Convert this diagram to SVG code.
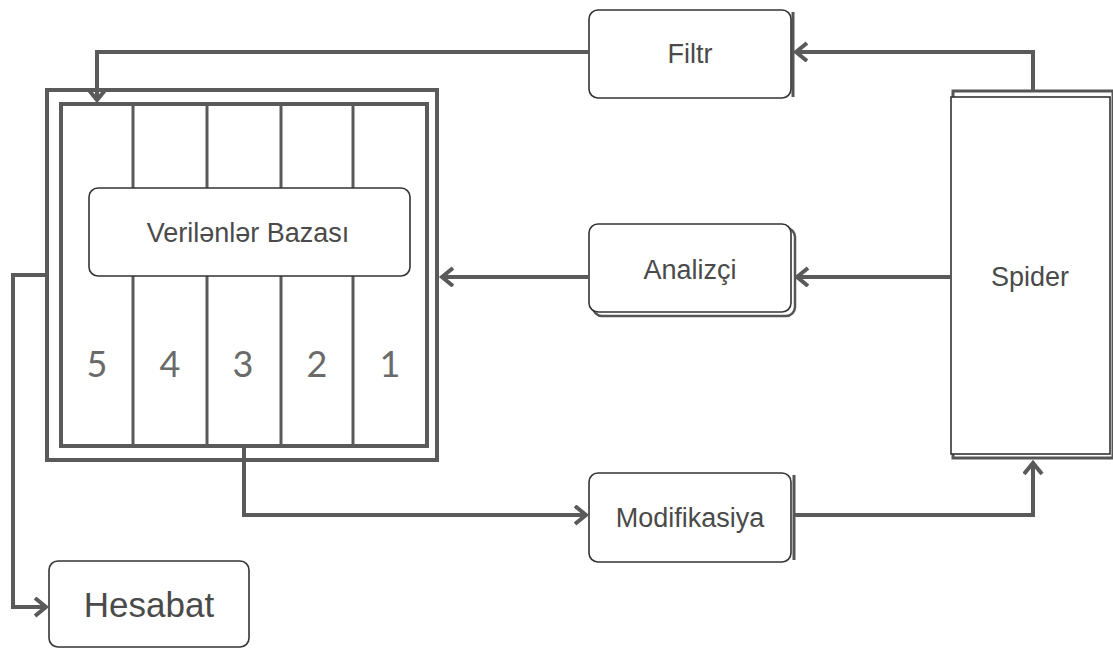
<svg xmlns="http://www.w3.org/2000/svg" width="1113" height="650" viewBox="0 0 1113 650">
<style>
.box{fill:#fff;stroke:#333;stroke-width:1.6}
.shadow{fill:none;stroke:#555;stroke-width:3}
.conn{fill:none;stroke:#5a5a5a;stroke-width:4;stroke-linejoin:miter}
.lbl{font-family:"Liberation Sans",Arial,sans-serif;font-size:27px;fill:#4a4a4a;text-anchor:middle;dominant-baseline:central}
.num{font-family:Lato,"Open Sans",sans-serif;font-size:36px;fill:#6a6a6a;text-anchor:middle}
.db{fill:#fff;stroke:#5a5a5a;stroke-width:4}
.div{stroke:#5a5a5a;stroke-width:3}
</style>
<defs>
<marker id="arr" markerUnits="userSpaceOnUse" markerWidth="20" markerHeight="24" refX="12" refY="10" orient="auto" viewBox="0 0 20 24">
<path d="M1,1 L12,10 L1,19" fill="none" stroke="#5a5a5a" stroke-width="4"/>
</marker>
</defs>
<g id="database">
<rect class="db" x="47" y="90" width="390" height="370"/>
<rect class="db" x="61" y="104" width="366" height="342"/>
<line class="div" x1="133" y1="104" x2="133" y2="446"/>
<line class="div" x1="207" y1="104" x2="207" y2="446"/>
<line class="div" x1="281" y1="104" x2="281" y2="446"/>
<line class="div" x1="353" y1="104" x2="353" y2="446"/>
<text class="num" x="97" y="377">5</text>
<text class="num" x="170" y="377">4</text>
<text class="num" x="243" y="377">3</text>
<text class="num" x="317" y="377">2</text>
<text class="num" x="390" y="377">1</text>
</g>
<g id="verilenler">
<rect class="box" x="89" y="188" width="321" height="88" rx="9"/>
<text class="lbl" x="248" y="233">Verilənlər Bazası</text>
</g>
<g id="filtr">
<line class="shadow" x1="793" y1="12" x2="793" y2="97"/>
<rect class="box" x="589" y="10" width="202" height="88" rx="9"/>
<text class="lbl" x="690" y="54">Filtr</text>
</g>
<g id="analizci">
<rect x="593" y="228" width="202" height="88" rx="9" fill="#fff" stroke="#555" stroke-width="2.5"/>
<rect class="box" x="589" y="224" width="202" height="88" rx="9"/>
<text class="lbl" x="690" y="270">Analizçi</text>
</g>
<g id="modifikasiya">
<line class="shadow" x1="794" y1="475" x2="794" y2="560"/>
<rect class="box" x="589" y="473" width="202" height="89" rx="9"/>
<text class="lbl" x="690" y="518">Modifikasiya</text>
</g>
<g id="spider">
<rect x="953" y="91" width="160" height="367" fill="#fff" stroke="#555" stroke-width="3"/>
<rect class="box" x="951" y="97" width="159" height="357"/>
<text class="lbl" x="1030" y="277">Spider</text>
</g>
<g id="hesabat">
<rect class="box" x="49" y="561" width="200" height="86" rx="9"/>
<text class="lbl" x="149" y="604" style="font-size:35px">Hesabat</text>
</g>
<g id="connectors">
<path class="conn" d="M589,52 H97 V100" marker-end="url(#arr)"/>
<path class="conn" d="M1033,90 V52 H796" marker-end="url(#arr)"/>
<path class="conn" d="M951,277 H797" marker-end="url(#arr)"/>
<path class="conn" d="M589,277 H442" marker-end="url(#arr)"/>
<path class="conn" d="M244,448 V515 H586" marker-end="url(#arr)"/>
<path class="conn" d="M795,515 H1033 V463" marker-end="url(#arr)"/>
<path class="conn" d="M45,275 H13 V607 H46" marker-end="url(#arr)"/>
</g>
</svg>
